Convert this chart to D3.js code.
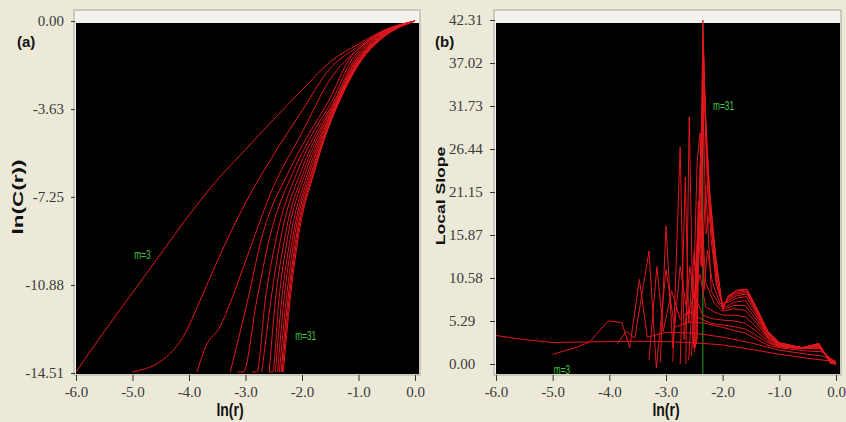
<!DOCTYPE HTML>
<html>
<head>
<title>Correlation sums and local slopes</title>
<meta charset="UTF-8">
<script src="https://d3js.org/d3.v7.min.js"></script>
<style>
	body { margin: 0; background-color: #ece9d8; }
	svg { display: block; }
	.tick text { font-family: "Liberation Serif", "Times New Roman", serif; font-size: 15px; fill: #3a3a3a; }
	.tick line { stroke: #333; }
	.lbl { font-family: "Liberation Sans", Arial, sans-serif; font-weight: bold; fill: #111; }
	.mlab { font-family: "Liberation Sans", Arial, sans-serif; font-size: 10px; fill: #45c845; }
</style>
</head>
<body>
<svg></svg>
<script>
// embedding dimensions, m = 3 .. 31
const mValues = [3, 5, 7, 9, 11, 13, 15, 17, 19, 21, 23, 25, 27, 29, 31];

const xTicks = [-6, -5, -4, -3, -2, -1, 0];
const xTickLabels = ["-6.0", "-5.0", "-4.0", "-3.0", "-2.0", "-1.0", "0.0"];
const yTicksA = [0, -3.63, -7.25, -10.88, -14.51];
const yTickLabelsA = ["0.00", "-3.63", "-7.25", "-10.88", "-14.51"];
const yTicksB = [42.31, 37.02, 31.73, 26.44, 21.15, 15.87, 10.58, 5.29, 0];
const yTickLabelsB = ["42.31", "37.02", "31.73", "26.44", "21.15", "15.87", "10.58", "5.29", "0.00"];

// (a) ln(C(r)) against ln(r), one list per m
const corrSums = [
	[[-6,-14.47],[-5.5,-12.8],[-5,-11.2],[-4.5,-9.6],[-4,-8.0],[-3.5,-6.55],[-3,-5.3],[-2.5,-4.05],[-2,-2.85],[-1.5,-1.68],[-1,-0.95],[-0.5,-0.33],[0,0]],
	[[-5.0,-14.47],[-4.4,-13.85],[-4.1,-13.0],[-3.8,-11.5],[-3.5,-9.9],[-3.0,-7.5],[-2.5,-5.5],[-2.0,-3.7],[-1.5,-1.95],[-1.0,-1.05],[-0.5,-0.36],[0,0]],
	[[-3.86,-14.47],[-3.7,-13.4],[-3.45,-12.6],[-3.25,-11.5],[-3.0,-9.9],[-2.5,-6.8],[-2.0,-4.6],[-1.5,-2.4],[-1.0,-1.15],[-0.5,-0.4],[0,0]],
	[[-3.27,-14.47],[-2.96,-11.5],[-2.72,-9.0],[-2.22,-6.14],[-1.84,-4.5],[-1.52,-3.26],[-1.17,-1.6],[-0.80,-0.78],[0,0]],
	[[-3.14,-14.47],[-3.04,-14.47],[-2.80,-11.5],[-2.58,-9.0],[-2.14,-6.14],[-1.78,-4.5],[-1.46,-3.26],[-1.12,-1.6],[-0.76,-0.78],[0,0]],
	[[-2.88,-14.47],[-2.80,-14.47],[-2.65,-11.5],[-2.46,-9.0],[-2.07,-6.14],[-1.73,-4.5],[-1.42,-3.26],[-1.08,-1.6],[-0.73,-0.78],[0,0]],
	[[-2.71,-14.47],[-2.55,-11.5],[-2.38,-9.0],[-2.01,-6.14],[-1.69,-4.5],[-1.40,-3.26],[-1.05,-1.6],[-0.71,-0.78],[0,0]],
	[[-2.58,-14.47],[-2.47,-11.5],[-2.31,-9.0],[-1.96,-6.14],[-1.66,-4.5],[-1.38,-3.26],[-1.03,-1.6],[-0.69,-0.78],[0,0]],
	[[-2.58,-14.47],[-2.52,-14.47],[-2.41,-11.5],[-2.26,-9.0],[-1.92,-6.14],[-1.63,-4.5],[-1.37,-3.26],[-1.01,-1.6],[-0.67,-0.78],[0,0]],
	[[-2.47,-14.47],[-2.36,-11.5],[-2.21,-9.0],[-1.88,-6.14],[-1.61,-4.5],[-1.36,-3.26],[-0.99,-1.6],[-0.66,-0.78],[0,0]],
	[[-2.43,-14.47],[-2.32,-11.5],[-2.17,-9.0],[-1.85,-6.14],[-1.59,-4.5],[-1.35,-3.26],[-0.98,-1.6],[-0.65,-0.78],[0,0]],
	[[-2.40,-14.47],[-2.28,-11.5],[-2.14,-9.0],[-1.82,-6.14],[-1.57,-4.5],[-1.34,-3.26],[-0.97,-1.6],[-0.64,-0.78],[0,0]],
	[[-2.37,-14.47],[-2.25,-11.5],[-2.11,-9.0],[-1.80,-6.14],[-1.56,-4.5],[-1.34,-3.26],[-0.96,-1.6],[-0.63,-0.78],[0,0]],
	[[-2.35,-14.47],[-2.23,-11.5],[-2.09,-9.0],[-1.78,-6.14],[-1.55,-4.5],[-1.33,-3.26],[-0.95,-1.6],[-0.62,-0.78],[0,0]],
	[[-2.33,-14.47],[-2.21,-11.5],[-2.07,-9.0],[-1.77,-6.14],[-1.55,-4.5],[-1.33,-3.26],[-0.94,-1.6],[-0.62,-0.78],[0,0]]
];

// (b) local slope against ln(r), one list per m
const localSlopes = [
	[[-6,3.5],[-5.5,3.0],[-5,2.65],[-4.5,2.7],[-4,2.75],[-3.5,2.8],[-3,2.75],[-2.5,2.6],[-2,2.35],[-1.5,1.8],[-1,1.2],[-0.5,0.7],[0,0.3]],
	[[-5.0,1.2],[-4.6,2.0],[-4.35,2.7],[-4.02,5.3],[-3.78,5.1],[-3.64,2.0],[-3.47,10.4],[-3.33,3.3],[-3.0,3.9],[-2.5,3.8],[-2.0,3.3],[-1.5,2.6],[-1.0,1.7],[-0.5,1.2],[-0.25,1.0],[0,0.3]],
	[[-3.86,2.5],[-3.7,4.0],[-3.55,3.2],[-3.3,13.9],[-3.17,-0.5],[-3.0,11.6],[-2.85,4.5],[-2.6,5.2],[-2.3,5.0],[-2.0,4.5],[-1.6,3.8],[-1.2,2.3],[-1.0,2.0],[-0.5,1.6],[-0.25,1.5],[0,0.2]],
	[[-3.3,0.5],[-3.16,12.0],[-3.05,4.0],[-2.9,9.0],[-2.75,5.5],[-2.6,6.5],[-2.4,5.6],[-2.2,5.0],[-2.0,4.8],[-1.8,4.6],[-1.6,4.3],[-1.4,3.5],[-1.2,2.6],[-1.0,2.1],[-0.6,1.9],[-0.3,1.9],[-0.12,0.8],[0,0.1]],
	[[-3.1,0.2],[-3.0,17.0],[-2.88,2.0],[-2.75,12.0],[-2.62,6.0],[-2.5,8.5],[-2.35,6.0],[-2.2,5.6],[-2.0,5.4],[-1.8,5.3],[-1.6,5.0],[-1.4,4.0],[-1.2,2.8],[-1.0,2.1],[-0.6,1.9],[-0.3,2.0],[-0.1,0.6],[0,0.1]],
	[[-2.88,0.3],[-2.75,26.7],[-2.68,3.0],[-2.58,12.0],[-2.5,8.0],[-2.4,11.0],[-2.3,7.0],[-2.15,6.4],[-2.0,6.0],[-1.8,6.0],[-1.6,5.8],[-1.4,4.5],[-1.2,3.0],[-1.0,2.2],[-0.6,2.0],[-0.3,2.1],[-0.1,0.5],[0,0]],
	[[-2.75,0.0],[-2.66,23.0],[-2.6,5.0],[-2.5,14.0],[-2.45,9.0],[-2.38,20.0],[-2.3,10.0],[-2.15,7.5],[-2.0,6.5],[-1.8,6.8],[-1.6,6.6],[-1.4,5.0],[-1.2,3.2],[-1.0,2.3],[-0.6,2.0],[-0.3,2.2],[-0.1,0.4],[0,0]],
	[[-2.65,0.0],[-2.59,30.4],[-2.52,4.0],[-2.43,18.0],[-2.36,12.0],[-2.3,22.0],[-2.2,9.0],[-2.05,7.2],[-1.95,6.8],[-1.8,7.2],[-1.6,7.2],[-1.4,5.4],[-1.2,3.3],[-1.0,2.3],[-0.6,2.0],[-0.3,2.3],[-0.1,0.3],[0,0]],
	[[-2.6,0.5],[-2.5,12.0],[-2.45,25.0],[-2.4,28.4],[-2.33,9.0],[-2.27,14.0],[-2.18,10.0],[-2.05,7.5],[-1.95,7.0],[-1.8,7.6],[-1.6,7.8],[-1.4,5.8],[-1.2,3.4],[-1.0,2.4],[-0.6,2.0],[-0.3,2.4],[-0.1,0.3],[0,0]],
	[[-2.55,1.0],[-2.47,12.0],[-2.4,20.0],[-2.35,33.0],[-2.29,16.0],[-2.22,19.0],[-2.12,10.0],[-2.0,7.5],[-1.9,7.6],[-1.75,8.1],[-1.58,8.3],[-1.4,6.1],[-1.2,3.6],[-1.0,2.4],[-0.6,2.0],[-0.3,2.4],[-0.1,0.3],[0,0]],
	[[-2.52,2.0],[-2.44,16.0],[-2.38,12.0],[-2.33,35.0],[-2.27,22.0],[-2.2,15.0],[-2.1,9.5],[-2.0,7.2],[-1.9,7.8],[-1.75,8.4],[-1.57,8.6],[-1.4,6.3],[-1.2,3.7],[-1.0,2.5],[-0.6,2.0],[-0.3,2.4],[-0.1,0.2],[0,0]],
	[[-2.5,1.5],[-2.43,20.0],[-2.38,15.0],[-2.34,37.0],[-2.28,25.0],[-2.22,18.0],[-2.1,10.5],[-2.0,7.0],[-1.9,8.0],[-1.75,8.6],[-1.57,8.8],[-1.4,6.5],[-1.2,3.8],[-1.0,2.5],[-0.6,2.0],[-0.3,2.5],[-0.1,0.2],[0,0]],
	[[-2.48,2.0],[-2.42,18.0],[-2.37,24.0],[-2.34,39.0],[-2.29,27.0],[-2.22,20.0],[-2.12,12.0],[-2.0,6.9],[-1.9,8.2],[-1.75,8.8],[-1.57,9.0],[-1.4,6.7],[-1.2,3.9],[-1.0,2.6],[-0.6,2.0],[-0.3,2.5],[-0.1,0.1],[0,0]],
	[[-2.46,2.5],[-2.41,22.0],[-2.37,28.0],[-2.35,40.5],[-2.3,30.0],[-2.23,21.0],[-2.12,13.0],[-2.0,6.8],[-1.9,8.3],[-1.75,9.0],[-1.57,9.1],[-1.4,6.8],[-1.2,4.0],[-1.0,2.6],[-0.6,2.0],[-0.3,2.5],[-0.1,0.1],[0,0]],
	[[-2.45,3.0],[-2.4,24.0],[-2.37,30.0],[-2.35,42.3],[-2.31,32.0],[-2.24,22.0],[-2.13,13.5],[-2.0,6.6],[-1.9,8.4],[-1.75,9.1],[-1.57,9.2],[-1.4,6.9],[-1.2,4.0],[-1.0,2.6],[-0.6,2.0],[-0.3,2.5],[-0.1,0.1],[0,0]]
];

// ln(r) of the green marker line in (b)
const markerLnR = -2.35;

const w = 846, h = 422;
const frameTop = 10, plotTop = 23, plotBottom = 374;

const svg = d3.select('svg').attr('width', w).attr('height', h);

const xA = d3.scaleLinear().domain([-6, 0]).range([76, 415]);
const yA = d3.scaleLinear().domain([-14.51, 0]).range([373, 21]);
const xB = d3.scaleLinear().domain([-6, 0]).range([496, 836]);
const yB = d3.scaleLinear().domain([0, 42.31]).range([364, 20]);

const drawFrame = (x0, x1) => {
	svg.append('rect')
		.attr('x', x0 - 2).attr('y', frameTop)
		.attr('width', x1 - x0 + 3).attr('height', plotBottom - frameTop + 1)
		.attr('fill', '#f3f2ec').attr('stroke', '#aaa89a');
	svg.append('rect')
		.attr('x', x0).attr('y', plotTop)
		.attr('width', x1 - x0).attr('height', plotBottom - plotTop)
		.attr('fill', '#000');
}
drawFrame(76, 419);
drawFrame(496, 840);

// x axes
[xA, xB].forEach(sc => {
	svg.append('g')
		.attr('transform', 'translate(0,' + (plotBottom + 1) + ')')
		.call(d3.axisBottom(sc).tickValues(xTicks).tickFormat((d, i) => xTickLabels[i]).tickSize(6))
		.call(g => g.select('.domain').remove())
		.selectAll('text').attr('y', 22).attr('dy', 0);
});

// y axes
svg.append('g')
	.attr('transform', 'translate(75,0)')
	.call(d3.axisLeft(yA).tickValues(yTicksA).tickFormat((d, i) => yTickLabelsA[i]).tickSize(4).tickPadding(7))
	.call(g => g.select('.domain').remove());

svg.append('g')
	.attr('transform', 'translate(495,0)')
	.call(d3.axisLeft(yB).tickValues(yTicksB).tickFormat((d, i) => yTickLabelsB[i]).tickSize(5))
	.call(g => g.select('.domain').remove())
	.selectAll('text').attr('x', 449 - 495).attr('text-anchor', 'start');

// curves
const lineA = d3.line().x(d => xA(d[0])).y(d => yA(d[1])).curve(d3.curveMonotoneX);
const lineB = d3.line().x(d => xB(d[0])).y(d => yB(d[1]));

svg.append('g').selectAll('path')
	.data(corrSums)
	.join('path')
	.attr('d', lineA)
	.attr('fill', 'none')
	.attr('stroke', '#e3171d')
	.attr('stroke-width', 1);

svg.append('line')
	.attr('x1', xB(markerLnR)).attr('x2', xB(markerLnR))
	.attr('y1', plotTop).attr('y2', plotBottom)
	.attr('stroke', '#22a022').attr('stroke-width', 1);

svg.append('g').selectAll('path')
	.data(localSlopes)
	.join('path')
	.attr('d', lineB)
	.attr('fill', 'none')
	.attr('stroke', '#e3171d')
	.attr('stroke-width', 1);

// m labels
const mLabels = [
	{t: 'm=' + mValues[0], x: xA(-4.97), y: yA(-9.81)},
	{t: 'm=' + mValues[mValues.length - 1], x: xA(-2.12), y: yA(-13.15)},
	{t: 'm=' + mValues[mValues.length - 1], x: xB(-2.17), y: yB(31.24)},
	{t: 'm=' + mValues[0], x: xB(-4.98), y: yB(-1.23)}
];
svg.selectAll('.mlab')
	.data(mLabels)
	.join('text')
	.attr('class', 'mlab')
	.attr('transform', d => 'translate(' + d.x + ',' + d.y + ') scale(0.83,1.3)')
	.text(d => d.t);

// titles
svg.append('text').attr('class', 'lbl').attr('x', 17).attr('y', 47).style('font-size', '15px').text('(a)');
svg.append('text').attr('class', 'lbl').attr('x', 435).attr('y', 47).style('font-size', '15px').text('(b)');

[230, 666].forEach(cx => {
	svg.append('text').attr('class', 'lbl')
		.attr('transform', 'translate(' + cx + ',416) scale(1,1.25)')
		.attr('text-anchor', 'middle').style('font-size', '14px')
		.text('ln(r)');
});

svg.append('text').attr('class', 'lbl')
	.attr('transform', 'translate(23,197) scale(1,1.5) rotate(-90)')
	.attr('text-anchor', 'middle').style('font-size', '15px')
	.text('ln(C(r))');

svg.append('text').attr('class', 'lbl')
	.attr('transform', 'translate(445,196) scale(1,1.3) rotate(-90)')
	.attr('text-anchor', 'middle').style('font-size', '13.5px')
	.text('Local Slope');
</script>
</body>
</html>
